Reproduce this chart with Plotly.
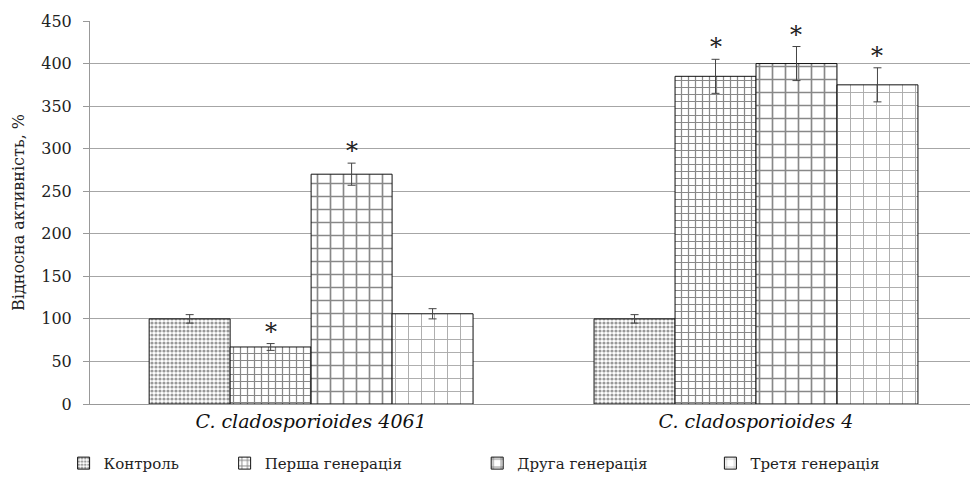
import plotly.graph_objects as go

categories = ["C. cladosporioides 4061", "C. cladosporioides 4"]
series_names = ["Контроль", "Перша генерація", "Друга генерація", "Третя генерація"]
values = [
    [100, 100],
    [67, 385],
    [270, 400],
    [106, 375],
]
errors = [
    [5, 5],
    [4, 20],
    [13, 20],
    [6, 20],
]
significant = [
    [False, False],
    [True, True],
    [True, True],
    [False, True],
]
y_ticks = [0, 50, 100, 150, 200, 250, 300, 350, 400, 450]

patterns = [
    dict(shape=".", size=4, solidity=0.5, fgcolor="#333333", bgcolor="white"),
    dict(shape="+", size=7, solidity=0.32, fgcolor="#111111", bgcolor="white"),
    dict(shape="+", size=13, solidity=0.24, fgcolor="#111111", bgcolor="white"),
    dict(shape="+", size=13, solidity=0.14, fgcolor="#555555", bgcolor="white"),
]

x_pos = list(range(len(categories)))
bargap = 0.272
n = len(series_names)
bar_w = (1 - bargap) / n

SERIF = "DejaVu Serif"

fig = go.Figure()
legend_x = [-0.03, 0.153, 0.44, 0.705]
for i, name in enumerate(series_names):
    lg = "legend" if i == 0 else f"legend{i+1}"
    fig.add_trace(go.Bar(
        name=name,
        x=x_pos,
        y=values[i],
        marker=dict(color="white", line=dict(color="#111111", width=1), pattern=patterns[i]),
        error_y=dict(type="data", array=errors[i], visible=True, color="#444444", thickness=1, width=4),
        legend=lg,
        showlegend=True,
    ))

annotations = []
for i in range(n):
    for j, cx in enumerate(x_pos):
        if significant[i][j]:
            annotations.append(dict(
                x=cx + (i - (n - 1) / 2) * bar_w,
                y=values[i][j] + errors[i][j],
                xref="x", yref="y",
                text="*", showarrow=False,
                yanchor="bottom", yshift=-4,
                font=dict(family=SERIF, size=24, color="#222222"),
            ))

layout_legends = {}
for i in range(n):
    key = "legend" if i == 0 else f"legend{i+1}"
    layout_legends[key] = dict(
        x=legend_x[i], y=-0.155, xanchor="left", yanchor="middle",
        orientation="h", bgcolor="rgba(0,0,0,0)",
        font=dict(family=SERIF, size=15, color="#222222"),
        itemwidth=30,
    )

fig.update_layout(
    width=970, height=480,
    margin=dict(l=90, r=0, t=21, b=76, autoexpand=False),
    plot_bgcolor="white", paper_bgcolor="white",
    showlegend=True,
    barmode="group", bargap=bargap, bargroupgap=0,
    annotations=annotations,
    font=dict(family=SERIF),
    **layout_legends,
)
fig.update_xaxes(
    range=[-0.497, 1.481],
    tickvals=x_pos, ticktext=categories,
    tickfont=dict(family=SERIF, size=19, color="#111111", style="italic"),
    showgrid=False, zeroline=False,
    showline=True, linecolor="#999999", linewidth=1,
    ticks="",
)
fig.update_yaxes(
    range=[0, 450], tickvals=y_ticks,
    tickfont=dict(family=SERIF, size=16, color="#222222"),
    ticklabelstandoff=8,
    showgrid=True, gridcolor="#a6a6a6", gridwidth=1,
    zeroline=False,
    showline=True, linecolor="#999999", linewidth=1,
    ticks="outside", ticklen=6, tickcolor="#999999",
    title=dict(text="Відносна активність, %", font=dict(family=SERIF, size=16, color="#222222"), standoff=12),
)
fig.write_html("out.html", post_script="document.body.style.margin='0';",
               config={"displayModeBar": False})
